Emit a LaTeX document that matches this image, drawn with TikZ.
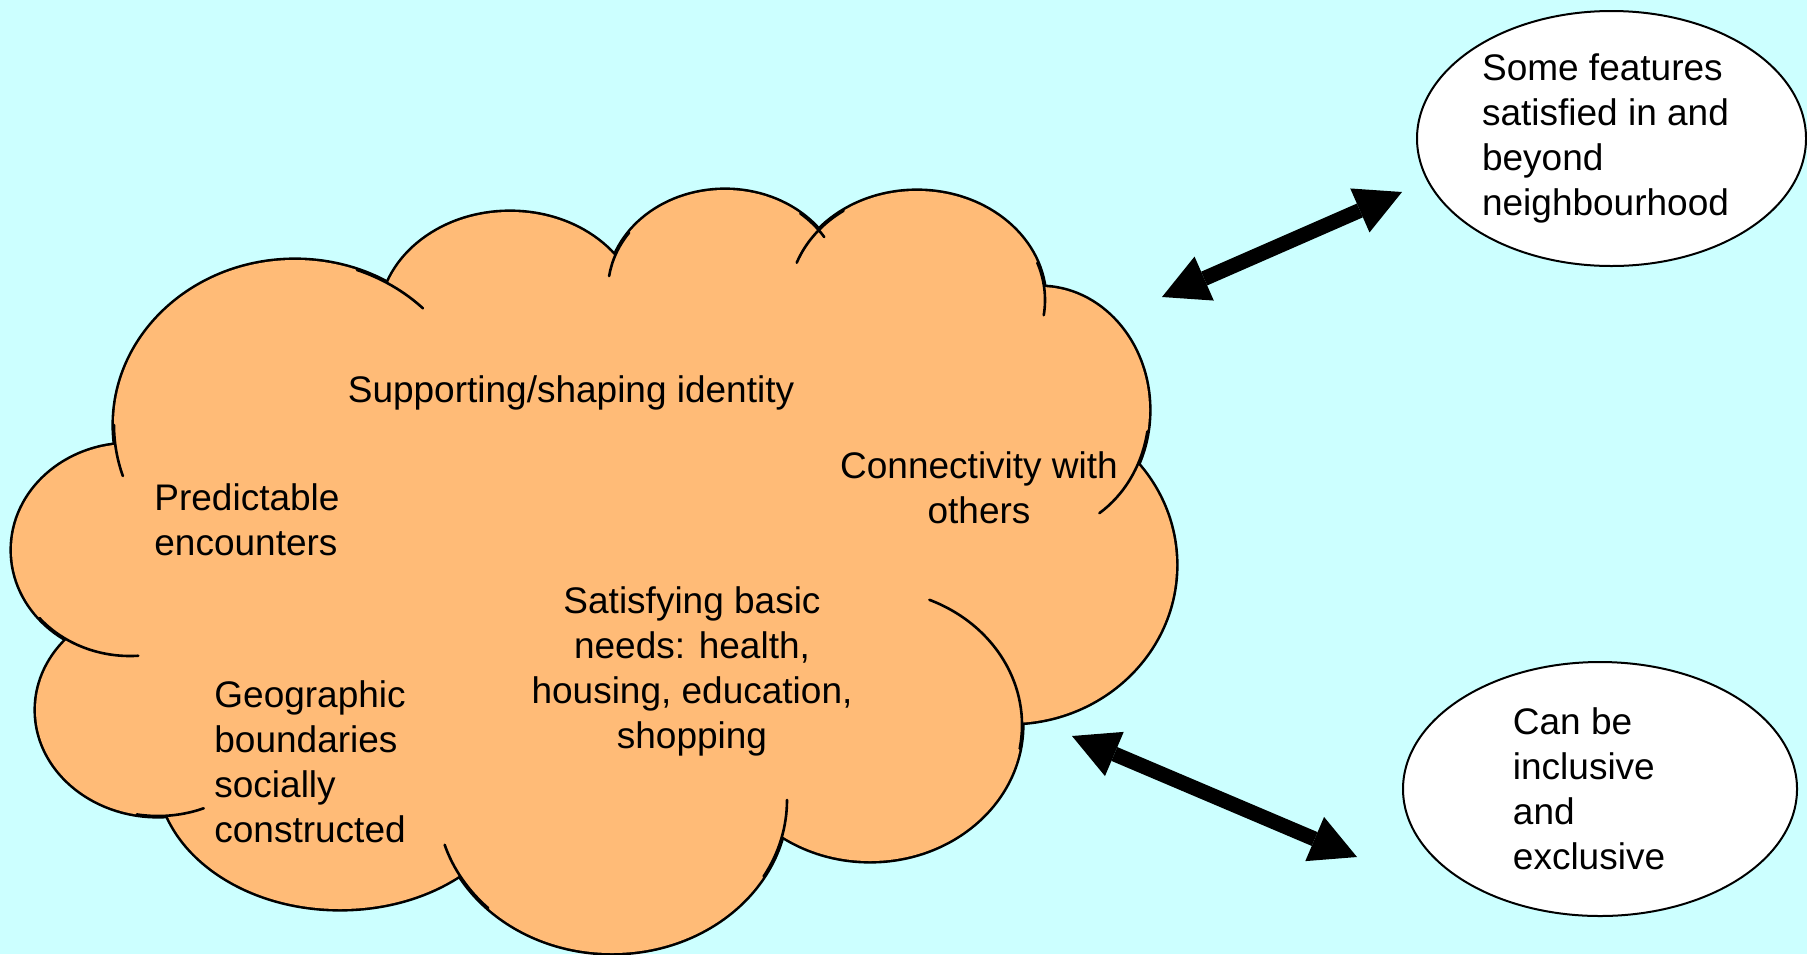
\documentclass[tikz,border=0pt]{standalone}
\usepackage{fontspec}
\setmainfont{Liberation Sans}
\usetikzlibrary{arrows.meta,shapes.geometric}
\definecolor{bgcyan}{HTML}{CCFFFF}
\definecolor{cloudorange}{HTML}{FFBB77}
\tikzset{
  cloudline/.style={draw=black, line width=1.3pt, line cap=round},
  cloudunder/.style={draw=black, line width=2.6pt},
  txt/.style={inner sep=0pt, font=\fontsize{18.5pt}{22.5pt}\selectfont},
  bubble/.style={ellipse, draw=black, line width=1pt, fill=white, inner sep=0pt, align=left,
    font=\fontsize{18.5pt}{22.5pt}\selectfont},
  bigarrow/.style={line width=7.5pt,
    {Triangle[length=23pt,width=24pt,line width=0pt]}-{Triangle[length=23pt,width=24pt,line width=0pt]}}
}
% inner arc of a cloud lobe: centre x, centre y, x radius, y radius, start angle, end angle
\newcommand{\cloudstub}[6]{\draw[cloudline] (#1,#2) ++(#5:#3 and #4) arc[start angle=#5, end angle=#6, x radius=#3, y radius=#4];}
\def\lobes{295/425/181/165, 510/320/130/108, 725/290/117/100, 917/300/128/109,
  1040/410/109/123, 1010/565/166/158, 870/725/152/136, 612/800/175/153,
  340/772/182/137, 158/710/122/106, 130/550/118/106}
\begin{document}
\begin{tikzpicture}[x=0.5pt,y=-0.5pt]
\path[use as bounding box, fill=bgcyan] (0,0) rectangle (1807,954);
% cloud: outline under the fill, then the fill
\foreach \cx/\cy/\rx/\ry in \lobes
  \draw[cloudunder] (\cx,\cy) ellipse[x radius=\rx, y radius=\ry];
\foreach \cx/\cy/\rx/\ry in \lobes
  \fill[cloudorange] (\cx,\cy) ellipse[x radius=\rx, y radius=\ry];
\fill[cloudorange] (295,425) -- (510,320) -- (725,290) -- (917,300) -- (1040,410) -- (1010,565)
  -- (870,725) -- (612,800) -- (340,772) -- (158,710) -- (130,550) -- cycle;
% inner arc stubs of the cloud
\cloudstub{295}{425}{181}{165}{180}{162}
\cloudstub{295}{425}{181}{165}{-70}{-45}
\cloudstub{725}{290}{117}{100}{215}{188}
\cloudstub{725}{290}{117}{100}{-50}{-32}
\cloudstub{917}{300}{128}{109}{235}{200}
\cloudstub{917}{300}{128}{109}{-20}{8}
\cloudstub{1040}{410}{109}{123}{10}{57}
\cloudstub{870}{725}{152}{136}{-67}{10}
\cloudstub{612}{800}{175}{153}{30}{0}
\cloudstub{612}{800}{175}{153}{135}{163}
\cloudstub{158}{710}{122}{106}{100}{68}
\cloudstub{130}{550}{118}{106}{140}{86}
% cloud texts
\node[txt] (supp) at (571,393) {Supporting/shaping identity};
\node[txt, align=left, anchor=west] (pred) at (154,520) {Predictable\\encounters};
\node[txt, align=center] (conn) at (979,488) {Connectivity with\\others};
\node[txt, align=center] (sat) at (692,671) {Satisfying basic\\needs: health,\\housing, education,\\shopping};
\node[txt, align=left, anchor=west] (geo) at (214,762) {Geographic\\boundaries\\socially\\constructed};
% ellipses
\node[bubble, minimum width=194.5pt, minimum height=127.5pt] (e1) at (1611.5,138.5)
  {Some features\\satisfied in and\\beyond\\neighbourhood\hspace*{6pt}};
\node[bubble, minimum width=197pt, minimum height=127pt] (e2) at (1600,789)
  {Can be\\inclusive\\and\\exclusive\hspace*{11pt}};
% arrows
\coordinate (a1s) at (1162,297);
\coordinate (a1e) at (1402,192);
\coordinate (a2s) at (1072,736);
\coordinate (a2e) at (1357,857);
\draw[bigarrow] (a1s) -- (a1e);
\draw[bigarrow] (a2s) -- (a2e);
\end{tikzpicture}
\end{document}
